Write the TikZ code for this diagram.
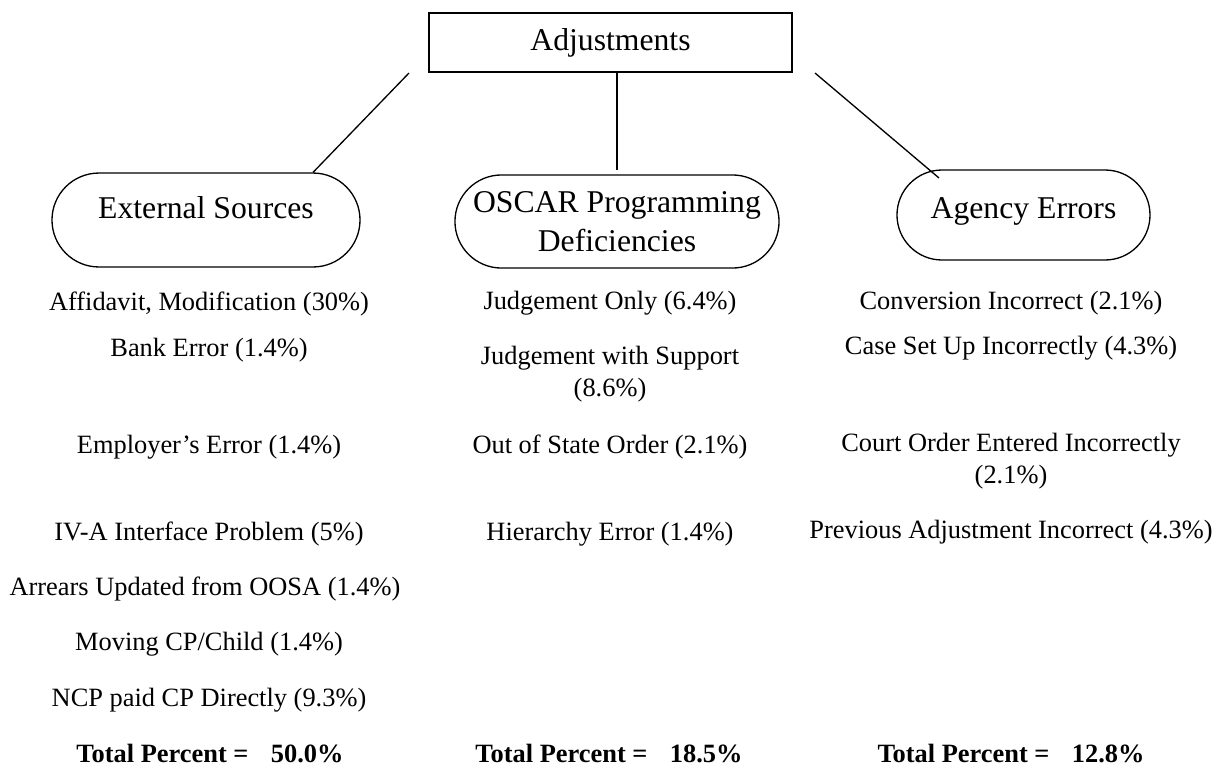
\documentclass[tikz,border=0pt]{standalone}
\usepackage{fontspec}
\setmainfont{Liberation Serif}
\usetikzlibrary{shapes.misc}
\begin{document}
\begin{tikzpicture}[x=0.4545pt, y=-0.4545pt,
    topbox/.style={draw, line width=0.9pt, minimum width=165pt, minimum height=26.8pt,
      inner sep=0pt, font=\fontsize{14.4}{17.7}\selectfont},
    group/.style={draw, line width=0.6pt, rounded rectangle, inner sep=0pt, align=center,
      font=\fontsize{14.4}{17.7}\selectfont},
    entry/.style={align=center, inner sep=0pt, font=\fontsize{12}{14.5}\selectfont},
    total/.style={inner sep=0pt, font=\fontsize{12}{14.5}\selectfont\bfseries},
    link/.style={line width=0.6pt}]
  \useasboundingbox (0,0) rectangle (1217,767);

  \node[topbox] (adj) at (610.5,42.5) {Adjustments};

  % the three groups
  \node[group, minimum width=140pt, minimum height=42.7pt, text height=10pt, text depth=11.5pt]
    (ext) at (206,220) {External Sources};
  \node[group, minimum width=147.3pt, minimum height=42.3pt]
    (oscar) at (617,221.5) {OSCAR Programming\\Deficiencies};
  \node[group, minimum width=115pt, minimum height=40.9pt, text height=10pt, text depth=7pt]
    (agency) at (1023.5,215) {Agency Errors};

  \coordinate (adjL) at (409,73);
  \coordinate (adjR) at (815,73);
  \coordinate (agencyIn) at (939,178);
  \draw[link] (adjL) -- (ext.north east);
  \draw[line width=0.9pt, shorten >=1.8pt] (oscar.north |- adj.south) -- (oscar.north);
  \draw[link] (adjR) -- (agencyIn);

  % external sources
  \node[entry] (e1) at (209,304) {Affidavit, Modification (30\%)};
  \node[entry] (e2) at (209,350) {Bank Error (1.4\%)};
  \node[entry] (e3) at (209,447) {Employer's Error (1.4\%)};
  \node[entry] (e4) at (209,534) {IV-A Interface Problem (5\%)};
  \node[entry] (e5) at (205,589) {Arrears Updated from OOSA (1.4\%)};
  \node[entry] (e6) at (209,644) {Moving CP/Child (1.4\%)};
  \node[entry] (e7) at (209,700) {NCP paid CP Directly (9.3\%)};
  \node[total] (etot) at (210,754) {Total Percent =\hspace{0.85em}50.0\%};

  % programming deficiencies
  \node[entry] (o1) at (610,303) {Judgement Only (6.4\%)};
  \node[entry] (o2) at (610,374) {Judgement with Support\\(8.6\%)};
  \node[entry] (o3) at (610,447) {Out of State Order (2.1\%)};
  \node[entry] (o4) at (610,534) {Hierarchy Error (1.4\%)};
  \node[total] (otot) at (609,754) {Total Percent =\hspace{0.85em}18.5\%};

  % agency errors
  \node[entry] (a1) at (1011,303) {Conversion Incorrect (2.1\%)};
  \node[entry] (a2) at (1011,348) {Case Set Up Incorrectly (4.3\%)};
  \node[entry] (a3) at (1011,461) {Court Order Entered Incorrectly\\(2.1\%)};
  \node[entry] (a4) at (1011,532) {Previous Adjustment Incorrect (4.3\%)};
  \node[total] (atot) at (1011,754) {Total Percent =\hspace{0.85em}12.8\%};
\end{tikzpicture}
\end{document}
